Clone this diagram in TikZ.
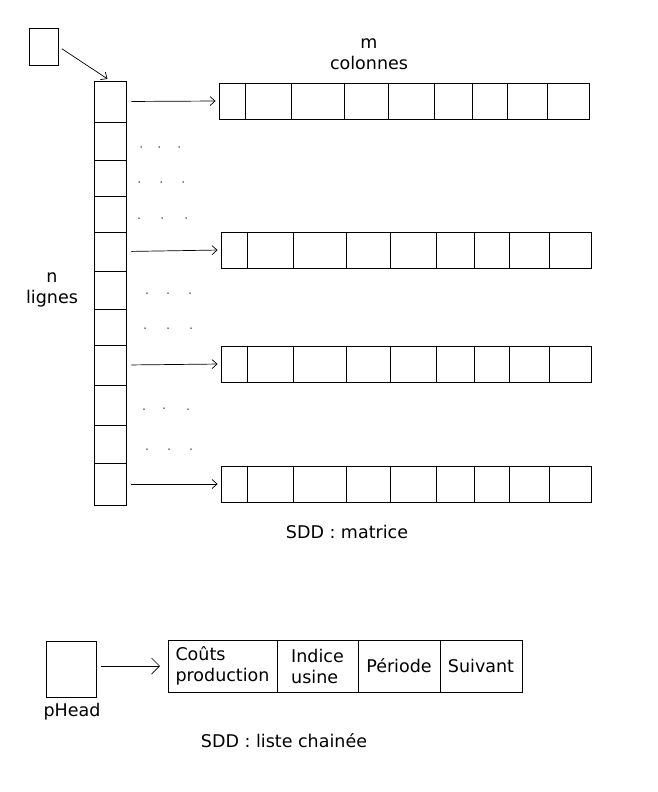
\documentclass[tikz,border=0pt]{standalone}
\usepackage{fontspec}
\setmainfont{DejaVu Sans}
\usetikzlibrary{positioning,arrows.meta}

\begin{document}
\begin{tikzpicture}[x=1pt,y=-1pt,line width=0.9pt,
  every node/.style={font=\fontsize{17.5}{21}\selectfont},
  cell/.style={draw,inner sep=0pt,minimum width=32pt,minimum height=#1},
  ligne/.style={draw,inner sep=0pt,minimum width=370pt,minimum height=36pt},
  champ/.style={draw,inner sep=0pt,outer sep=0pt,minimum height=52pt,minimum width=#1,align=left},
  ptr/.style={-{Straight Barb[length=5pt,width=9pt]},line width=0.7pt}]
\useasboundingbox (0,0) rectangle (658,792);
% pointeur vers le tableau de lignes
\node [draw,inner sep=0pt,minimum width=29pt,minimum height=37pt] (tete) at (43.5,46.5) {};
\foreach \y/\h [count=\i] in {81/41,122/38,160/36,196/36,232/39,271/38,309/36,345/40,385/40,425/38,463/42}
  \node [cell=\h pt] (c\i) at (110,\y+\h/2) {};
\draw [ptr,shorten <=4pt,shorten >=3pt] (tete.east) -- (c1.north);
% les lignes de la matrice
\node [ligne] (r1) at (404,101) {};
\node [ligne] (r2) at (406,250) {};
\node [ligne] (r3) at (406,364) {};
\node [ligne] (r4) at (406,484) {};
\foreach \r in {r1,r2,r3,r4}
  \foreach \d in {27,73,126,170,216,254,289,329}
    \draw ([xshift=\d pt]\r.north west) -- ([xshift=\d pt]\r.south west);
\foreach \c/\r in {c1/r1,c5/r2,c8/r3,c11/r4}
  \draw [ptr,shorten <=5pt,shorten >=3pt] (\c.east) -- (\r.west);
% points de suspension
\foreach \x/\y in {141/147,159/147,179/147,139/182,161/182,183/182,139/218,162/218,186/218,
                   147/293,168/293,190/293,145/328,168/328,191/328,
                   144/409,164/408,188/409,147/449,169/449,191/449}
  \fill (\x,\y) circle (0.75pt);
\node [align=center] (m) at (369,54) {m\\colonnes};
\node [align=center] (n) at (52,290) {n\\lignes};
\node (sdd1) at (347,532) {SDD : matrice};
% liste chainee
\node [draw,inner sep=0pt,minimum width=50pt,minimum height=56pt] (ph) at (71,669) {};
\node (lph) at (72,712) {pHead};
\node [champ=109pt] (f1) at (222.5,666) {Coûts\\production};
\node [champ=81pt,right=0pt of f1] (f2) {Indice\\usine};
\node [champ=82pt,right=0pt of f2] (f3) {Période};
\node [champ=82pt,right=0pt of f3] (f4) {Suivant};
\draw [-{Straight Barb[length=8pt,width=16pt]},line width=0.7pt,shorten <=5pt,shorten >=8pt] (ph.east |- f1.west) -- (f1.west);
\node (sdd2) at (284,741) {SDD : liste chainée};
\end{tikzpicture}
\end{document}
